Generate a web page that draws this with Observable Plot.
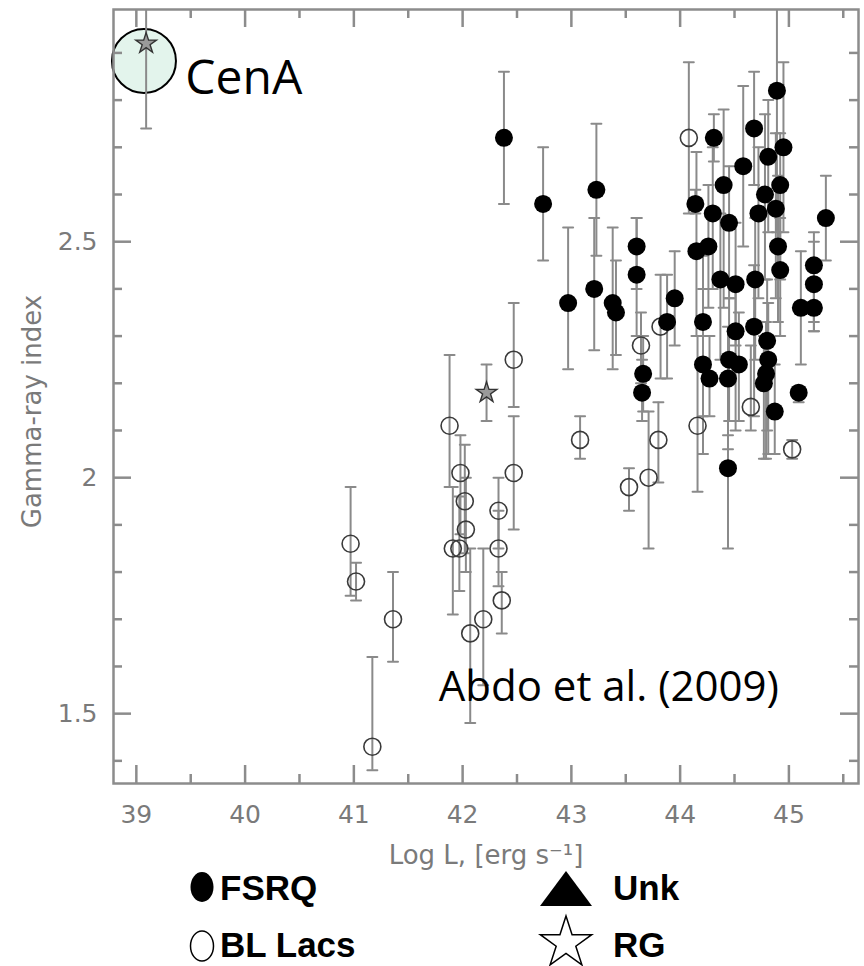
<!DOCTYPE html>
<html><head><meta charset="utf-8">
<script src="https://cdn.jsdelivr.net/npm/d3@7"></script>
<script src="https://cdn.jsdelivr.net/npm/@observablehq/plot@0.6"></script>
<style>
body{margin:0;background:#fff;}
#chart{position:relative;width:864px;height:966px;overflow:hidden;}
#chart svg{display:block;}
#chart svg.legend{position:absolute;left:0;}
</style></head><body><div id="chart"></div>
<script>
// ---- data ----
const fsrqX  = [42.38,42.74,42.97,43.21,43.23,43.38,43.41,43.60,43.60,43.66,43.65,43.88,43.95,44.14,44.15,44.21,44.21,44.27,44.26,44.30,44.31,44.37,44.40,44.45,44.45,44.44,44.44,44.51,44.51,44.54,44.58,44.68,44.69,44.68,44.72,44.78,44.81,44.80,44.81,44.79,44.77,44.88,44.89,44.90,44.92,44.92,44.95,44.87,45.09,45.11,45.23,45.23,45.23,45.34];
const fsrqY  = [2.72,2.58,2.37,2.40,2.61,2.37,2.35,2.49,2.43,2.22,2.18,2.33,2.38,2.58,2.48,2.33,2.24,2.21,2.49,2.56,2.72,2.42,2.62,2.54,2.25,2.21,2.02,2.41,2.31,2.24,2.66,2.74,2.42,2.32,2.56,2.60,2.68,2.29,2.25,2.22,2.20,2.57,2.82,2.49,2.62,2.44,2.70,2.14,2.18,2.36,2.36,2.45,2.41,2.55];
const fsrqLo = [2.58,2.46,2.23,2.27,2.47,2.23,2.26,2.40,2.30,2.14,2.12,2.21,2.28,2.56,2.30,2.13,2.05,2.13,2.36,2.40,2.67,2.25,2.36,2.38,2.12,2.06,1.85,2.28,2.10,2.12,2.49,2.62,2.25,2.13,2.38,2.42,2.52,2.10,2.05,2.04,2.04,2.38,2.52,2.33,2.42,2.30,2.52,2.05,2.16,2.24,2.31,2.31,2.33,2.46];
const fsrqHi = [2.86,2.70,2.53,2.55,2.75,2.53,2.46,2.55,2.55,2.30,2.25,2.43,2.48,2.61,2.69,2.47,2.40,2.30,2.62,2.70,2.77,2.56,2.78,2.66,2.38,2.32,2.09,2.54,2.42,2.35,2.83,2.86,2.55,2.45,2.70,2.77,2.80,2.42,2.37,2.33,2.30,2.73,3.05,2.64,2.73,2.55,2.88,2.24,2.19,2.48,2.42,2.52,2.50,2.64];

const bllX  = [40.97,41.02,41.17,41.36,41.88,41.91,41.97,41.98,42.02,42.03,42.07,42.19,42.33,42.33,42.36,42.47,42.47,43.08,43.53,43.64,43.71,43.80,43.82,44.08,44.16,44.65,45.03];
const bllY  = [1.86,1.78,1.43,1.70,2.11,1.85,1.85,2.01,1.95,1.89,1.67,1.70,1.93,1.85,1.74,2.25,2.01,2.08,1.98,2.28,2.00,2.08,2.32,2.72,2.11,2.15,2.06];
const bllLo = [1.75,1.74,1.38,1.61,1.98,1.71,1.76,1.88,1.84,1.80,1.48,1.56,1.85,1.77,1.67,2.15,1.89,2.04,1.93,2.20,1.85,1.99,2.21,2.56,1.97,2.10,2.04];
const bllHi = [1.98,1.82,1.62,1.80,2.26,1.98,1.96,2.09,2.07,2.00,1.85,1.85,2.00,1.93,1.80,2.37,2.13,2.13,2.02,2.35,2.14,2.16,2.43,2.88,2.30,2.28,2.08];

const rgX  = [39.09, 42.22];
const rgY  = [2.92, 2.18];
const rgLo = [2.74, 2.12];
const rgHi = [3.05, 2.24];

const xMajor = [39,40,41,42,43,44,45];
const xMinor = [39.5,40.5,41.5,42.5,43.5,44.5,45.5];
const yMajor = [1.5,2,2.5];
const yMinor = [1.4,1.6,1.7,1.8,1.9,2.1,2.2,2.3,2.4,2.6,2.7,2.8,2.9];

const xLabel = "Log L, [erg s\u207B\u00B9]";
const yLabel = "Gamma-ray index";
const cenACircle = [{x: 39.07, y: 2.883}];
const annotations = [
  {x: 39.45, y: 2.845, text: "CenA", size: 48},
  {x: 41.78, y: 1.555, text: "Abdo et al. (2009)", size: 42}
];
const legendLabels = ["FSRQ", "BL Lacs", "Unk", "RG"];

// ---- build ----
const mk = (X, Y, L, H) => X.map((x, i) => ({x, y: Y[i], lo: L[i], hi: H[i]}));
const fsrq = mk(fsrqX, fsrqY, fsrqLo, fsrqHi);
const bll = mk(bllX, bllY, bllLo, bllHi);
const rg = mk(rgX, rgY, rgLo, rgHi);
const all = [...bll, ...fsrq, ...rg];

const lineShape = {draw(context, l) { context.moveTo(0, 0); context.lineTo(0, -l); }};
const tickColor = "#8c8c8c";
const barColor = "#8a8a8a";

const W = 864, H = 874, mL = 113, mR = 6, mT = 9, mB = 91;
const iw = W - mL - mR, ih = H - mT - mB;
const tk = {stroke: tickColor, strokeWidth: 2.5};

const plot = Plot.plot({
  width: W,
  height: H,
  marginLeft: mL,
  marginRight: mR,
  marginTop: mT,
  marginBottom: mB,
  x: {domain: [38.79, 45.64]},
  y: {domain: [1.352, 2.992]},
  style: {fontFamily: "DejaVu Sans", background: "#fff"},
  marks: [
    Plot.dot(cenACircle, {x: "x", y: "y", r: 32, fill: "#e3f4ec", stroke: "#000", strokeWidth: 2}),
    Plot.ruleX(all, {x: "x", y1: "lo", y2: "hi", stroke: barColor, strokeWidth: 2, clip: true}),
    Plot.vector(all, {x: "x", y: "lo", rotate: 90, length: 10, anchor: "middle", shape: lineShape, stroke: barColor, strokeWidth: 2, clip: true}),
    Plot.vector(all, {x: "x", y: "hi", rotate: 90, length: 10, anchor: "middle", shape: lineShape, stroke: barColor, strokeWidth: 2, clip: true}),
    Plot.dot(bll, {x: "x", y: "y", r: 8.5, fill: "none", stroke: "#3a3a3a", strokeWidth: 1.6}),
    Plot.dot(fsrq, {x: "x", y: "y", r: 9, fill: "#000"}),
    Plot.dot(rg, {x: "x", y: "y", symbol: "star", r: 6.5, fill: "#9a9a9a", stroke: "#333", strokeWidth: 1.4}),
    // inward ticks on all four sides
    Plot.tickX(xMajor, {x: d => d, insetTop: ih - 18, ...tk}),
    Plot.tickX(xMinor, {x: d => d, insetTop: ih - 9, ...tk}),
    Plot.tickX(xMajor, {x: d => d, insetBottom: ih - 18, ...tk}),
    Plot.tickX(xMinor, {x: d => d, insetBottom: ih - 9, ...tk}),
    Plot.tickY(yMajor, {y: d => d, insetRight: iw - 18, ...tk}),
    Plot.tickY(yMinor, {y: d => d, insetRight: iw - 9, ...tk}),
    Plot.tickY(yMajor, {y: d => d, insetLeft: iw - 18, ...tk}),
    Plot.tickY(yMinor, {y: d => d, insetLeft: iw - 9, ...tk}),
    Plot.axisX({ticks: xMajor, tickSize: 0, tickPadding: 22, fontSize: 25, color: "#7a7a7a", tickFormat: d => String(d), label: null}),
    Plot.axisY({ticks: yMajor, tickSize: 0, tickPadding: 16, fontSize: 25, color: "#7a7a7a", tickFormat: d => String(d), label: null}),
    Plot.text([xLabel], {text: d => d, frameAnchor: "bottom", textAnchor: "middle", lineAnchor: "middle", dy: 72, fontSize: 26, fill: "#7a7a7a"}),
    Plot.text([yLabel], {text: d => d, frameAnchor: "left", textAnchor: "middle", lineAnchor: "middle", rotate: -90, dx: -81, dy: 15, fontSize: 26, fill: "#7a7a7a"}),
    Plot.text(annotations, {x: "x", y: "y", text: "text", fontSize: d => d.size, textAnchor: "start", fontFamily: "Open Sans", fill: "#000"}),
    Plot.frame({stroke: tickColor, strokeWidth: 2.5})
  ]
});
document.getElementById("chart").appendChild(plot);

// ---- legend below the plot frame (overlays only the empty bottom margin) ----
const LT = 840;
const leg = d3.select("#chart").append("svg").attr("class", "legend").attr("width", 864).attr("height", 966 - LT)
  .style("top", LT + "px").style("font-family", "'Liberation Sans', Arial, sans-serif");
const rows = [887 - LT, 944 - LT];
leg.append("ellipse").attr("cx", 202).attr("cy", rows[0]).attr("rx", 11.5).attr("ry", 15).attr("fill", "#000");
leg.append("ellipse").attr("cx", 202).attr("cy", rows[1] + 2).attr("rx", 11.5).attr("ry", 15).attr("fill", "#fff").attr("stroke", "#000").attr("stroke-width", 1.5);
leg.append("path").attr("d", "M-26,17L26,17L0,-18Z").attr("transform", `translate(566,${rows[0] + 2})`).attr("fill", "#000");
leg.append("path").attr("d", d3.symbol(d3.symbolStar, 820)()).attr("transform", `translate(566,${rows[1] - 1})`).attr("fill", "#fff").attr("stroke", "#000").attr("stroke-width", 1.5);
const pos = [[220, rows[0]], [220, rows[1]], [613, rows[0]], [613, rows[1]]];
legendLabels.forEach((t, i) => {
  leg.append("text").attr("x", pos[i][0]).attr("y", pos[i][1]).attr("dy", "0.36em")
    .attr("font-size", 35).attr("font-weight", "bold").attr("fill", "#000").text(t);
});
</script></body></html>
